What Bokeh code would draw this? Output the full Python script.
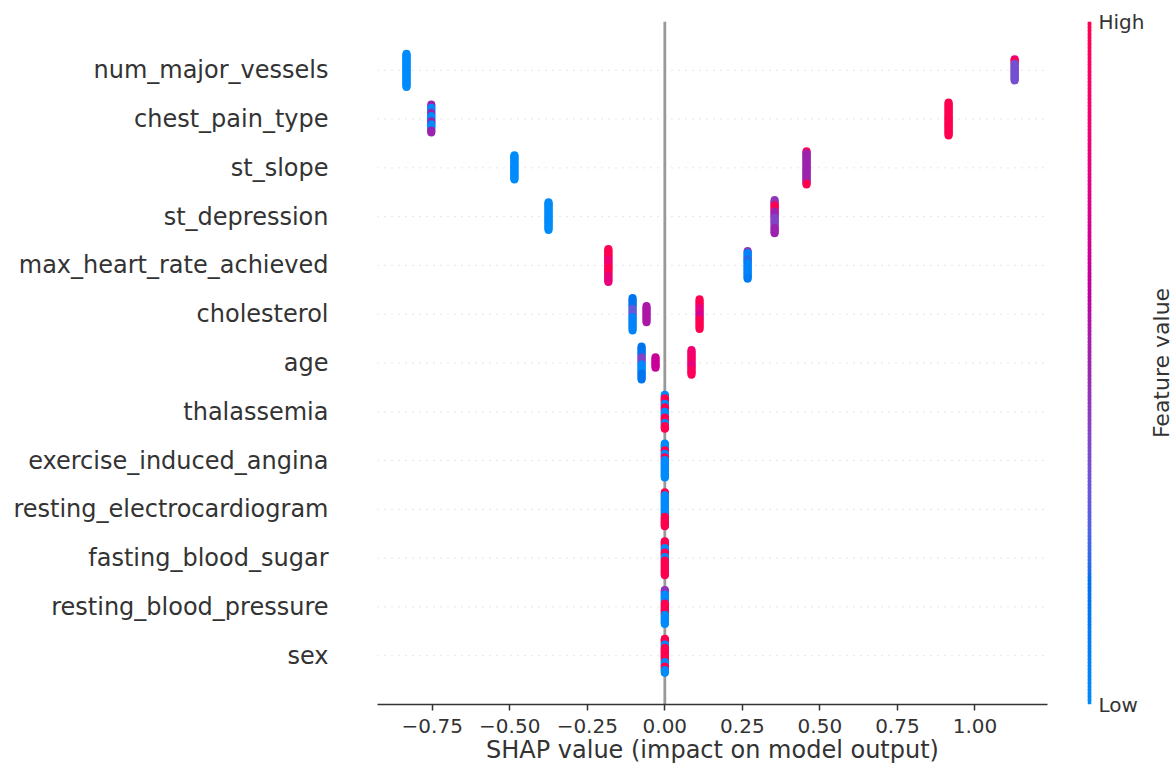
import numpy as np
from bokeh.plotting import figure
from bokeh.layouts import row
from bokeh.models import FixedTicker, Range1d, Span, Label, ColumnDataSource
from bokeh.embed import file_html
from bokeh.resources import INLINE

# ---------------- data ----------------
features = ["num_major_vessels", "chest_pain_type", "st_slope", "st_depression",
            "max_heart_rate_achieved", "cholesterol", "age", "thalassemia",
            "exercise_induced_angina", "resting_electrocardiogram", "fasting_blood_sugar",
            "resting_blood_pressure", "sex"]

# (SHAP value, normalised feature value 0=low..1=high, number of samples),
# listed top-to-bottom inside each stack of equal SHAP values
num_major_vessels = [(-0.833, 0.00, 37), (1.128, 0.80, 2), (1.128, 1.00, 3), (1.128, 0.35, 19)]
chest_pain_type = [(-0.753, 0.50, 3), (-0.753, 0.00, 5), (-0.753, 0.50, 3), (-0.753, 0.00, 5),
                   (-0.753, 0.50, 3), (-0.753, 0.00, 6), (-0.753, 0.50, 3), (0.915, 1.00, 33)]
st_slope = [(-0.485, 0.00, 26), (0.457, 1.00, 2), (0.457, 0.50, 31), (0.457, 1.00, 2)]
st_depression = [(-0.375, 0.00, 28), (0.354, 0.45, 5), (0.354, 1.00, 6), (0.354, 0.50, 6),
                 (0.354, 0.40, 10), (0.354, 0.50, 6)]
max_heart_rate_achieved = [(-0.182, 1.00, 10), (-0.182, 0.85, 8), (-0.182, 1.00, 8), (-0.182, 0.80, 7),
                           (0.267, 0.45, 2), (0.267, 0.05, 6), (0.267, 0.20, 4), (0.267, 0.05, 14),
                           (0.267, 0.10, 2)]
cholesterol = [(-0.104, 0.15, 8), (-0.104, 0.30, 6), (-0.104, 0.05, 11), (-0.059, 0.55, 13),
               (0.112, 1.00, 6), (0.112, 0.80, 5), (0.112, 0.70, 4), (0.112, 1.00, 8)]
age = [(-0.075, 0.15, 9), (-0.075, 0.40, 6), (-0.075, 0.00, 8), (-0.075, 0.15, 6),
       (-0.030, 0.65, 10),
       (0.086, 0.85, 6), (0.086, 0.90, 6), (0.086, 0.80, 5), (0.086, 0.95, 5)]
thalassemia = [(0.0, 0.00, 6), (0.0, 1.00, 10), (0.0, 0.00, 6), (0.0, 1.00, 8), (0.0, 0.00, 10),
               (0.0, 1.00, 10), (0.0, 0.00, 5), (0.0, 1.00, 6)]
exercise_induced_angina = [(0.0, 0.00, 12), (0.0, 1.00, 6), (0.0, 0.00, 6), (0.0, 1.00, 5), (0.0, 0.00, 32)]
resting_electrocardiogram = [(0.0, 1.00, 5), (0.0, 0.00, 38), (0.0, 1.00, 18)]
fasting_blood_sugar = [(0.0, 1.00, 12), (0.0, 0.00, 8), (0.0, 1.00, 8), (0.0, 0.00, 6), (0.0, 1.00, 27)]
resting_blood_pressure = [(0.0, 0.45, 8), (0.0, 0.00, 16), (0.0, 1.00, 20), (0.0, 0.00, 17)]
sex = [(0.0, 1.00, 10), (0.0, 0.00, 6), (0.0, 1.00, 25), (0.0, 0.00, 8), (0.0, 1.00, 6), (0.0, 0.00, 6)]

feature_runs = [num_major_vessels, chest_pain_type, st_slope, st_depression, max_heart_rate_achieved,
                cholesterol, age, thalassemia, exercise_induced_angina, resting_electrocardiogram,
                fasting_blood_sugar, resting_blood_pressure, sex]

x_ticks = [-0.75, -0.5, -0.25, 0.0, 0.25, 0.5, 0.75, 1.0]
x_tick_labels = ["\u22120.75", "\u22120.50", "\u22120.25", "0.00", "0.25", "0.50", "0.75", "1.00"]
x_label = "SHAP value (impact on model output)"
cbar_label = "Feature value"
cbar_ticks = [0, 1]
cbar_tick_labels = ["Low", "High"]

# ---------------- colour map (SHAP red_blue, LCH interpolation) ----------------
_xyz_from_rgb = np.array([[0.412453, 0.357580, 0.180423],
                          [0.212671, 0.715160, 0.072169],
                          [0.019334, 0.119193, 0.950227]])
_rgb_from_xyz = np.linalg.inv(_xyz_from_rgb)


def lch_to_hex(L, C, H):
    a, b = C * np.cos(H), C * np.sin(H)
    fy = (L + 16.0) / 116.0
    v = np.array([a / 500.0 + fy, fy, max(fy - b / 200.0, 0.0)])
    v = np.where(v > 0.2068966, v ** 3, (v - 16.0 / 116.0) / 7.787)
    xyz = v * np.array([0.95047, 1.0, 1.08883])
    rgb = _rgb_from_xyz @ xyz
    rgb = np.where(rgb > 0.0031308, 1.055 * np.power(np.clip(rgb, 1e-12, None), 1 / 2.4) - 0.055, 12.92 * rgb)
    rgb = np.clip(rgb, 0, 1)
    return "#%02x%02x%02x" % tuple(int(round(c * 255)) for c in rgb)


def red_blue(t):
    L = 54 + (40 - 54) * (t / 0.5) if t <= 0.5 else 40 + (54 - 40) * ((t - 0.5) / 0.5)
    C = 70 + (90 - 70) * t
    H = 4.6588 + (0.35470565 + 2 * np.pi - 4.6588) * t
    return lch_to_hex(L, C, H)


# ---------------- beeswarm layout ----------------
n_rows = len(features)
row_height = 0.4
xs, ys, cs = [], [], []
for i, runs in enumerate(feature_runs):
    pos = n_rows - 1 - i
    stacks = {}
    for shap_v, level, n in runs:
        stacks.setdefault(shap_v, []).extend([level] * n)
    max_top = max(len(v) // 2 for v in stacks.values())
    scale = 0.9 * row_height / (max_top + 1)
    for shap_v, levels in stacks.items():
        n = len(levels)
        offsets = n // 2 - np.arange(n)
        for lev, off in zip(levels, offsets):
            xs.append(shap_v)
            ys.append(pos + off * scale)
            cs.append(red_blue(lev))

src = ColumnDataSource(dict(x=xs, y=ys, c=cs))

# ---------------- layout constants ----------------
TOTAL_W, H = 1174, 766
W1 = 1080
FRAME_L, FRAME_R = 377, 1047
FRAME_T, FRAME_B = 21, 704
BAR_L, BAR_R = 1087, 1094
W2 = 1147 - W1
W3 = TOTAL_W - W1 - W2
x_left, x_right = -0.9265, 1.234

FONT = "DejaVu Sans"
TXT = "#333333"

# ---------------- main figure ----------------
p = figure(width=W1, height=H, output_backend="svg", toolbar_location=None,
           x_range=Range1d(x_left, x_right), y_range=Range1d(-1, n_rows),
           min_border_left=FRAME_L, min_border_right=W1 - FRAME_R,
           min_border_top=FRAME_T, min_border_bottom=H - FRAME_B)
p.outline_line_color = None
p.xgrid.visible = False
p.ygrid.visible = False
p.background_fill_color = "white"
p.border_fill_color = "white"

rows = list(range(n_rows))
gl = p.segment(x0=[x_left] * n_rows, x1=[x_right] * n_rows, y0=rows, y1=rows,
               line_color="#cccccc", line_width=1, line_dash="1 6")
gl.level = "underlay"

p.add_layout(Span(location=0, dimension="height", line_color="#999999", line_width=2.8, level="underlay"))

p.scatter("x", "y", source=src, size=8, fill_color="c", line_color=None)

xa = p.xaxis[0]
xa.ticker = FixedTicker(ticks=x_ticks)
xa.major_label_overrides = {t: l for t, l in zip(x_ticks, x_tick_labels)}
xa.axis_line_color = TXT
xa.axis_line_width = 1.5
xa.major_tick_line_color = TXT
xa.major_tick_line_width = 1.5
xa.major_tick_out = 6
xa.major_tick_in = 0
xa.minor_tick_line_color = None
xa.major_label_standoff = 8
xa.major_label_text_font = FONT
xa.major_label_text_font_size = "20px"
xa.major_label_text_color = TXT
xa.axis_label = x_label
xa.axis_label_standoff = 0
xa.axis_label_text_font = FONT
xa.axis_label_text_font_size = "24px"
xa.axis_label_text_font_style = "normal"
xa.axis_label_text_color = TXT

ya = p.yaxis[0]
ya.ticker = FixedTicker(ticks=rows)
ya.major_label_overrides = {n_rows - 1 - i: f for i, f in enumerate(features)}
ya.axis_line_color = None
ya.major_tick_line_color = None
ya.minor_tick_line_color = None
ya.major_tick_out = 0
ya.major_tick_in = 0
ya.major_label_standoff = 49
ya.major_label_text_font = FONT
ya.major_label_text_font_size = "24px"
ya.major_label_text_color = TXT

# ---------------- colour bar (its frame is the bar itself) ----------------
cb = figure(width=W2, height=H, output_backend="svg", toolbar_location=None,
            x_range=Range1d(0, 1), y_range=Range1d(0, 1),
            x_axis_location=None, y_axis_location="right",
            min_border_left=BAR_L - W1, min_border_right=W1 + W2 - BAR_R,
            min_border_top=FRAME_T, min_border_bottom=H - FRAME_B)
cb.outline_line_color = None
cb.grid.visible = False
cb.background_fill_color = "white"
cb.border_fill_color = "white"

n_steps = 200
bottoms = [k / n_steps for k in range(n_steps)]
tops = [min(b + 1.6 / n_steps, 1.0) for b in bottoms]
cb.quad(left=0, right=1, bottom=bottoms, top=tops,
        fill_color=[red_blue(k / (n_steps - 1)) for k in range(n_steps)], line_color=None)

cya = cb.yaxis[0]
cya.ticker = FixedTicker(ticks=cbar_ticks)
cya.major_label_overrides = {t: l for t, l in zip(cbar_ticks, cbar_tick_labels)}
cya.axis_line_color = None
cya.major_tick_line_color = None
cya.minor_tick_line_color = None
cya.major_tick_out = 0
cya.major_tick_in = 0
cya.major_label_standoff = 7
cya.major_label_text_font = FONT
cya.major_label_text_font_size = "20px"
cya.major_label_text_color = TXT

# ---------------- colour bar title ----------------
ct = figure(width=W3, height=H, output_backend="svg", toolbar_location=None,
            x_range=Range1d(0, 1), y_range=Range1d(0, 1),
            x_axis_location=None, y_axis_location=None,
            min_border_left=0, min_border_right=0,
            min_border_top=FRAME_T, min_border_bottom=H - FRAME_B)
ct.outline_line_color = None
ct.grid.visible = False
ct.background_fill_color = "white"
ct.border_fill_color = "white"
ct.add_layout(Label(x=(1160.5 - W1 - W2) / W3, y=0.5, text=cbar_label, angle=np.pi / 2,
                    text_align="center", text_baseline="middle",
                    text_font=FONT, text_font_size="22px", text_color=TXT))

open("out.html", "w").write(file_html(row(p, cb, ct), INLINE))
